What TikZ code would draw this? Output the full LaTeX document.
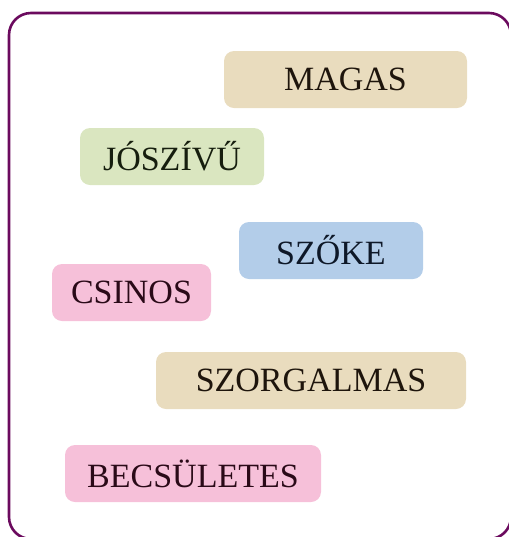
\documentclass[tikz,border=0pt]{standalone}
\usepackage{fontspec}
\setmainfont{Liberation Serif}
\definecolor{framepurple}{HTML}{6B0A5E}
\definecolor{tanfill}{HTML}{E9DCBE}
\definecolor{greenfill}{HTML}{DAE6C0}
\definecolor{bluefill}{HTML}{B3CDE9}
\definecolor{pinkfill}{HTML}{F6C0D9}
\definecolor{tantext}{HTML}{1E150C}
\definecolor{greentext}{HTML}{161E0E}
\definecolor{bluetext}{HTML}{0E1828}
\definecolor{pinktext}{HTML}{2A0A18}
\tikzset{
  wordbox/.style={rounded corners=5pt,minimum height=28.5pt,inner sep=0pt,
    font=\fontsize{17}{20}\selectfont},
  tanbox/.style={wordbox,fill=tanfill,text=tantext},
  greenbox/.style={wordbox,fill=greenfill,text=greentext},
  bluebox/.style={wordbox,fill=bluefill,text=bluetext},
  pinkbox/.style={wordbox,fill=pinkfill,text=pinktext}
}

\begin{document}
\begin{tikzpicture}[x=0.5pt,y=-0.5pt]
  \useasboundingbox (0,0) rectangle (509,537);
  % frame
  \draw[framepurple,line width=1.3pt,rounded corners=11pt] (9,13) rectangle (511,539);
  % words
  \node[tanbox,minimum width=121.5pt] (magas) at (345.5,79.5) {MAGAS};
  \node[greenbox,minimum width=92pt] (joszivu) at (172,156.5) {JÓSZÍVŰ};
  \node[bluebox,minimum width=92pt] (szoke) at (331,250.5) {SZŐKE};
  \node[pinkbox,minimum width=79.5pt] (csinos) at (131.5,292.5) {CSINOS};
  \node[tanbox,minimum width=155pt] (szorgalmas) at (311,380.5) {SZORGALMAS};
  \node[pinkbox,minimum width=128pt] (becsuletes) at (193,473.5) {BECSÜLETES};
\end{tikzpicture}
\end{document}
